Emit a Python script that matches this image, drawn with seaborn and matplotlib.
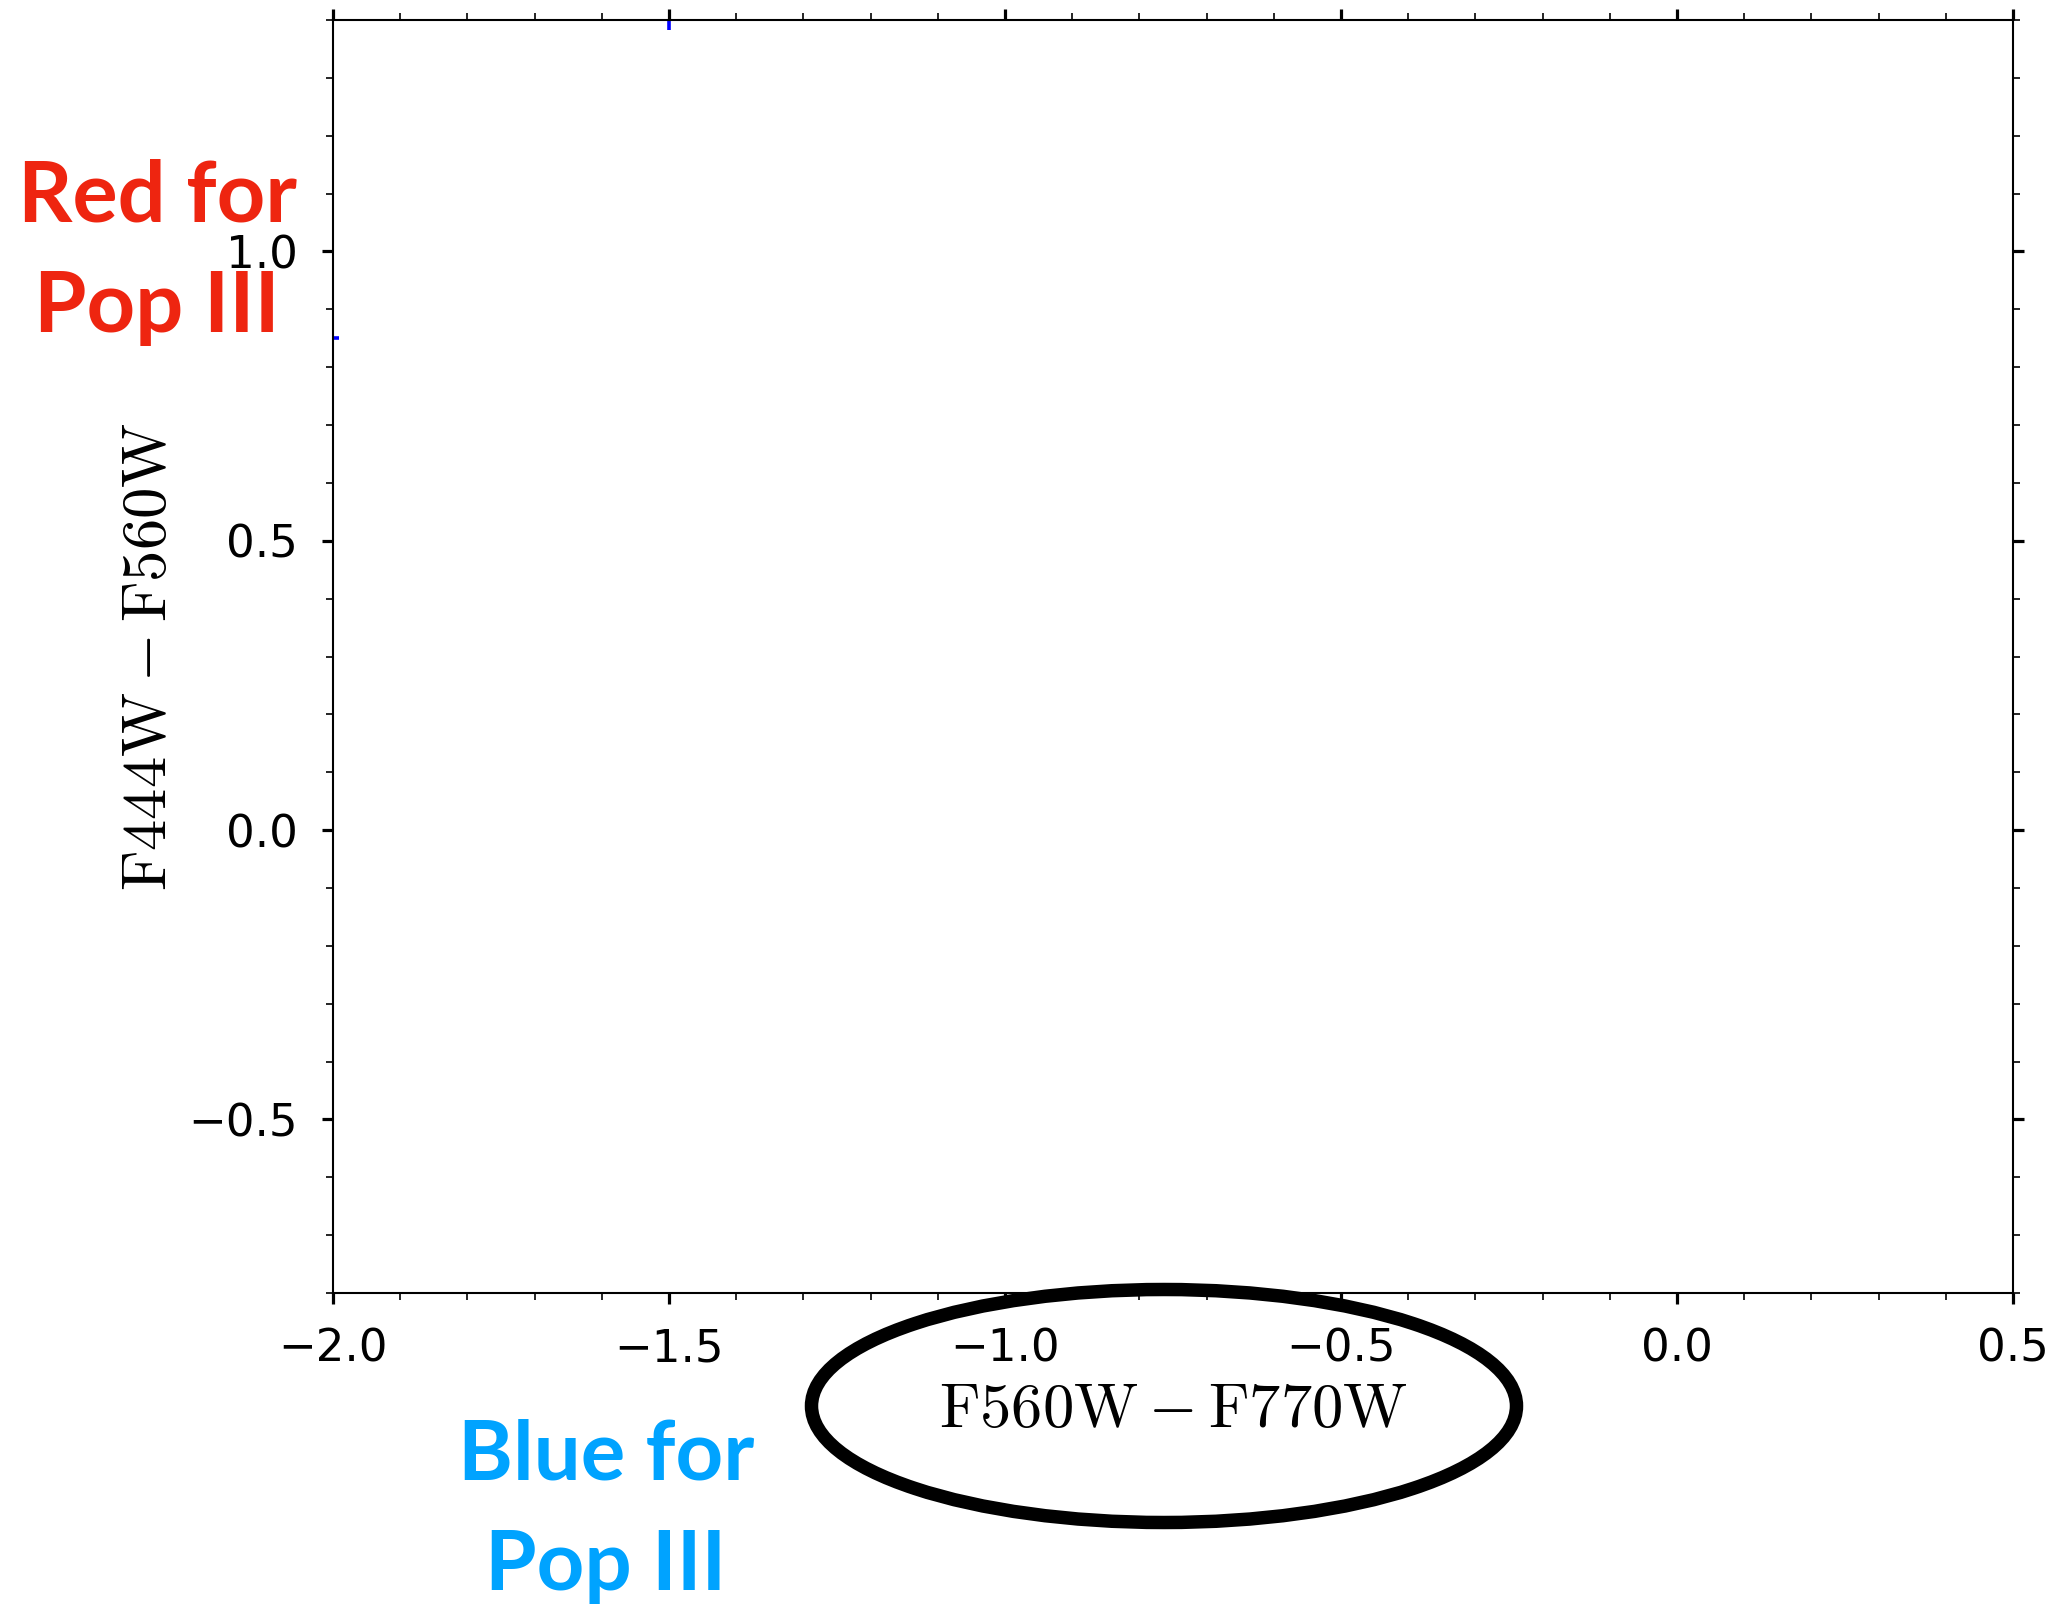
import matplotlib
matplotlib.use("Agg")
import matplotlib.pyplot as plt
from matplotlib.patches import Ellipse
from matplotlib.ticker import MultipleLocator
import seaborn as sns
import pandas as pd

# colour-colour points (F560W - F770W, F444W - F560W)
color_x = [-1.5, -2.0]
color_y = [1.40, 0.85]
point_marker = ["|", "_"]
point_size = [200, 70]

x_limits = (-2.0, 0.5)
y_limits = (-0.8, 1.4)

sns.set_style("ticks")
plt.rcParams["font.family"] = ["DejaVu Sans"]
plt.rcParams["mathtext.fontset"] = "cm"
plt.rcParams["text.color"] = "black"
plt.rcParams["axes.labelcolor"] = "black"
plt.rcParams["xtick.color"] = "black"
plt.rcParams["ytick.color"] = "black"
plt.rcParams["axes.edgecolor"] = "black"

fig = plt.figure(figsize=(20.70, 16.04), dpi=100)
ax = fig.add_axes([0.1609, 0.1939, 0.8116, 0.7936])

df = pd.DataFrame({"x": color_x, "y": color_y, "m": point_marker, "s": point_size})
for mk, sub in df.groupby("m"):
    sns.scatterplot(data=sub, x="x", y="y", marker=mk, s=float(sub["s"].iloc[0]),
                    color="#0000ff", linewidth=2.6, ax=ax, legend=False)

ax.set_xlim(*x_limits)
ax.set_ylim(*y_limits)
ax.xaxis.set_major_locator(MultipleLocator(0.5))
ax.xaxis.set_minor_locator(MultipleLocator(0.1))
ax.yaxis.set_major_locator(MultipleLocator(0.5))
ax.yaxis.set_minor_locator(MultipleLocator(0.1))

for s in ax.spines.values():
    s.set_linewidth(1.5)
    s.set_color("black")

ax.tick_params(which="both", direction="out", top=True, right=True,
               labeltop=False, labelright=False, color="black")
ax.tick_params(which="major", length=8, width=2.3, labelsize=32.5, pad=17)
ax.tick_params(which="minor", length=4.8, width=1.2)

ax.set_xlabel(r"$\mathrm{F560W} - \mathrm{F770W}$", fontsize=45)
ax.set_ylabel(r"$\mathrm{F444W} - \mathrm{F560W}$", fontsize=45)
ax.xaxis.set_label_coords(0.5, -0.068)
ax.yaxis.set_label_coords(-0.092, 0.5)

# ring around the x-axis label
ring = Ellipse((1164 / 2070, 1 - 1406 / 1604), 705 / 2070, 233 / 1604,
               transform=fig.transFigure, fill=False, edgecolor="black",
               linewidth=9.7, clip_on=False)
fig.add_artist(ring)

red = "#ee2510"
blue = "#00a3ff"
fam = ["Lato", "DejaVu Sans"]
fig.text(157 / 2070, 1 - 222 / 1604, "Red for", color=red, fontsize=61,
         fontweight="bold", family=fam, ha="center", va="baseline")
fig.text(157 / 2070, 1 - 332 / 1604, "Pop III", color=red, fontsize=61,
         fontweight="bold", family=fam, ha="center", va="baseline")
fig.text(606 / 2070, 1 - 1480 / 1604, "Blue for", color=blue, fontsize=60,
         fontweight="bold", family=fam, ha="center", va="baseline")
fig.text(606 / 2070, 1 - 1590 / 1604, "Pop III", color=blue, fontsize=60,
         fontweight="bold", family=fam, ha="center", va="baseline")

fig.savefig("out.png", dpi=100, facecolor="white")
